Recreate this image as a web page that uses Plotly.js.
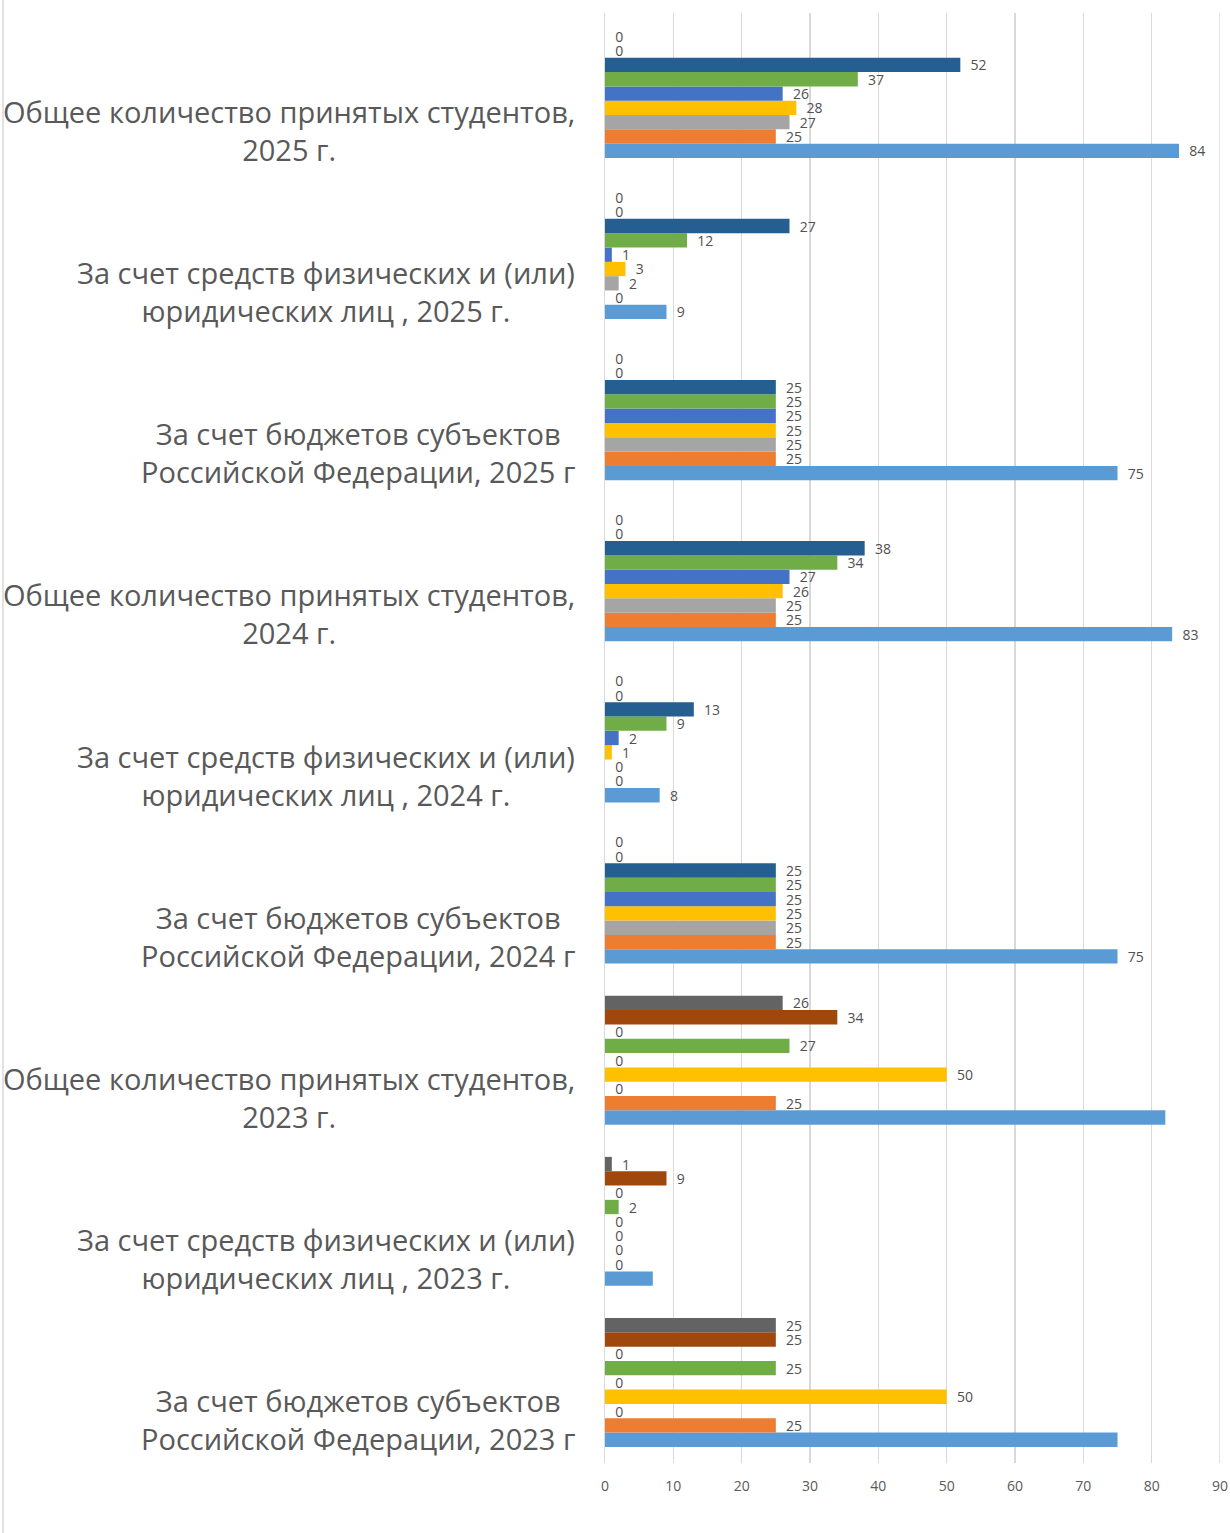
<!DOCTYPE html>
<html>
<head>
<meta charset="utf-8">
<script src="https://cdn.plot.ly/plotly-3.0.1.min.js"></script>
<style>html,body{margin:0;padding:0;background:#fff;}#chart{width:1230px;height:1533px;}</style>
</head>
<body>
<div id="chart"></div>
<script>
const categories = [
  "За счет бюджетов субъектов<br>Российской Федерации, 2023 г",
  "За счет средств физических и (или)<br>юридических лиц , 2023 г.",
  "Общее количество принятых студентов,<br>2023 г.",
  "За счет бюджетов субъектов<br>Российской Федерации, 2024 г",
  "За счет средств физических и (или)<br>юридических лиц , 2024 г.",
  "Общее количество принятых студентов,<br>2024 г.",
  "За счет бюджетов субъектов<br>Российской Федерации, 2025 г",
  "За счет средств физических и (или)<br>юридических лиц , 2025 г.",
  "Общее количество принятых студентов,<br>2025 г."
];
const s1 = [75, 7, 82, 75, 8, 83, 75, 9, 84];
const s2 = [25, 0, 25, 25, 0, 25, 25, 0, 25];
const s3 = [0, 0, 0, 25, 0, 25, 25, 2, 27];
const s4 = [50, 0, 50, 25, 1, 26, 25, 3, 28];
const s5 = [0, 0, 0, 25, 2, 27, 25, 1, 26];
const s6 = [25, 2, 27, 25, 9, 34, 25, 12, 37];
const s7 = [0, 0, 0, 25, 13, 38, 25, 27, 52];
const s8 = [25, 9, 34, 0, 0, 0, 0, 0, 0];
const s9 = [25, 1, 26, 0, 0, 0, 0, 0, 0];
// which points carry a data label (1 = shown)
const s1Shown = [0, 0, 0, 1, 1, 1, 1, 1, 1];

const seriesValues = [s1, s2, s3, s4, s5, s6, s7, s8, s9];
const seriesColors = ["#5B9BD5", "#ED7D31", "#A5A5A5", "#FFC000", "#4472C4", "#70AD47", "#255E91", "#9E480E", "#636363"];

const traces = seriesValues.map((vals, k) => ({
  type: "bar",
  orientation: "h",
  y: categories,
  x: vals,
  marker: {color: seriesColors[k], line: {width: 0}},
  text: vals.map((v, i) => (k === 0 && !s1Shown[i]) ? "" : "\u00A0\u00A0" + v),
  textposition: "outside",
  textfont: {family: "Open Sans, sans-serif", size: 14, color: "#505050"},
  constraintext: "none",
  cliponaxis: false,
  hoverinfo: "x"
}));

const annotations = categories.map(c => ({
  xref: "paper", yref: "y",
  x: -0.046, y: c,
  xanchor: "right", yanchor: "middle",
  yshift: -37,
  align: "center",
  showarrow: false,
  text: c,
  font: {family: "Open Sans, sans-serif", size: 29, color: "#595959"}
}));

const layout = {
  width: 1230, height: 1533,
  margin: {l: 605, r: 10, t: 13, b: 70},
  paper_bgcolor: "#ffffff",
  plot_bgcolor: "#ffffff",
  barmode: "group",
  bargap: 0.2,
  bargroupgap: 0,
  showlegend: false,
  xaxis: {
    range: [0, 90], dtick: 10, tick0: 0,
    showgrid: true, gridcolor: "#D9D9D9", gridwidth: 1.5,
    zeroline: false, showline: false,
    ticks: "outside", ticklen: 10, tickcolor: "rgba(0,0,0,0)",
    tickfont: {family: "Open Sans, sans-serif", size: 14, color: "#595959"},
    fixedrange: true
  },
  yaxis: {
    type: "category",
    showticklabels: false,
    showgrid: false, zeroline: false,
    showline: true, linecolor: "#D9D9D9", linewidth: 1.5,
    fixedrange: true
  },
  annotations: annotations,
  shapes: [{
    type: "line", xref: "paper", yref: "paper",
    x0: (3 - 605) / 615, x1: (3 - 605) / 615,
    y0: -70 / 1450, y1: 1463 / 1450,
    line: {color: "#D9D9D9", width: 1.5}
  }, {
    type: "line", xref: "x", yref: "paper",
    x0: 90, x1: 90, y0: 0, y1: 1,
    line: {color: "#D9D9D9", width: 1.5}, layer: "below"
  }]
};

Plotly.newPlot("chart", traces, layout, {displayModeBar: false, staticPlot: true});
</script>
</body>
</html>
